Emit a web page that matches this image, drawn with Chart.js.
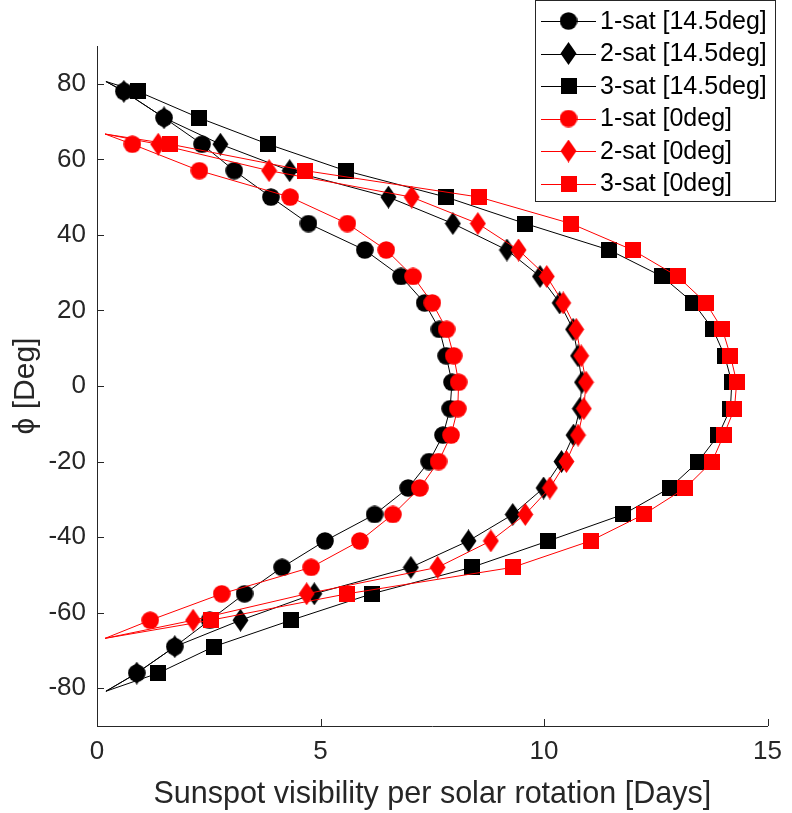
<!DOCTYPE html>
<html>
<head>
<meta charset="utf-8">
<script src="https://cdn.jsdelivr.net/npm/chart.js@4.4.1/dist/chart.umd.min.js"></script>
<style>
  html, body { margin: 0; padding: 0; background: #fff; }
  #wrap { width: 792px; height: 813px; }
</style>
</head>
<body>
<div id="wrap"><canvas id="sunspot-chart" width="792" height="813"></canvas></div>
<script>
// latitudes (deg) of the sampled points, tips first/last
const latBlack = [80.6, 78, 71, 64, 57, 50, 43, 36, 29, 22, 15, 8, 1, -6, -13, -20, -27, -34, -41, -48, -55, -62, -69, -76, -80.8];
const latRed = [66.7, 64, 57, 50, 43, 36, 29, 22, 15, 8, 1, -6, -13, -20, -27, -34, -41, -48, -55, -62, -66.8];

// visibility in days, 14.5deg inclination (black)
const sat1Incl = [0.2, 0.6, 1.5, 2.35, 3.07, 3.89, 4.73, 5.99, 6.8, 7.33, 7.66, 7.81, 7.94, 7.9, 7.74, 7.43, 6.96, 6.21, 5.1, 4.14, 3.3, 2.52, 1.74, 0.89, 0.2];
const sat2Incl = [0.2, 0.6, 1.5, 2.76, 4.31, 6.52, 7.96, 9.17, 9.91, 10.35, 10.65, 10.76, 10.85, 10.8, 10.66, 10.39, 9.99, 9.3, 8.31, 7.02, 4.86, 3.21, 1.74, 0.89, 0.2];
const sat3Incl = [0.2, 0.91, 2.28, 3.83, 5.56, 7.81, 9.58, 11.46, 12.64, 13.34, 13.78, 14.04, 14.2, 14.17, 13.9, 13.45, 12.81, 11.77, 10.1, 8.38, 6.15, 4.34, 2.61, 1.37, 0.2];

// visibility in days, 0deg inclination (red)
const sat1Zero = [0.18, 0.79, 2.29, 4.32, 5.6, 6.47, 7.07, 7.5, 7.82, 7.98, 8.09, 8.07, 7.92, 7.64, 7.22, 6.62, 5.88, 4.79, 2.79, 1.19, 0.18];
const sat2Zero = [0.18, 1.37, 3.85, 7.04, 8.52, 9.43, 10.06, 10.43, 10.72, 10.83, 10.94, 10.89, 10.76, 10.5, 10.13, 9.58, 8.81, 7.62, 4.69, 2.15, 0.18];
const sat3Zero = [0.18, 1.64, 4.66, 8.55, 10.6, 11.98, 12.99, 13.62, 13.99, 14.17, 14.31, 14.26, 14.02, 13.76, 13.16, 12.23, 11.04, 9.3, 5.6, 2.54, 0.18];

const labels = ['1-sat [14.5deg]', '2-sat [14.5deg]', '3-sat [14.5deg]', '1-sat [0deg]', '2-sat [0deg]', '3-sat [0deg]'];
const xTicks = [0, 5, 10, 15];
const yTicks = [-80, -60, -40, -20, 0, 20, 40, 60, 80];

const axisColor = '#262626';
const fontFamily = "'Liberation Sans', Arial, 'DejaVu Sans', sans-serif";

// MATLAB-like filled markers
function makeMarker(shape, color) {
    const c = document.createElement('canvas');
    if (shape === 'circle') { c.width = 18; c.height = 18; }
    else if (shape === 'square') { c.width = 16; c.height = 16; }
    else { c.width = 17; c.height = 23; }
    const g = c.getContext('2d');
    g.fillStyle = color;
    g.beginPath();
    if (shape === 'circle') {
        g.arc(9, 9, 8.8, 0, Math.PI * 2);
    } else if (shape === 'square') {
        g.rect(0, 0, 16, 16);
    } else {
        g.moveTo(8.5, 0); g.lineTo(16.5, 11.5); g.lineTo(8.5, 23); g.lineTo(0.5, 11.5); g.closePath();
    }
    g.fill();
    return c;
}

const toPoints = (xs, lats) => xs.map((v, i) => ({ x: v, y: lats[i] }));

function series(i, xs, lats, color, shape) {
    const last = xs.length - 1;
    return {
        label: labels[i],
        data: toPoints(xs, lats),
        showLine: true,
        borderColor: color,
        backgroundColor: color,
        borderWidth: 1,
        tension: 0,
        pointStyle: makeMarker(shape, color),
        pointRadius: ctx => (ctx.dataIndex === 0 || ctx.dataIndex === last) ? 0 : 8,
        order: 6 - i  // later series drawn on top
    };
}

const datasets = [
    series(0, sat1Incl, latBlack, '#000000', 'circle'),
    series(1, sat2Incl, latBlack, '#000000', 'diamond'),
    series(2, sat3Incl, latBlack, '#000000', 'square'),
    series(3, sat1Zero, latRed, '#ff0000', 'circle'),
    series(4, sat2Zero, latRed, '#ff0000', 'diamond'),
    series(5, sat3Zero, latRed, '#ff0000', 'square')
];

// inward tick marks + boxed legend in the upper right
const framePlugin = {
    id: 'frame',
    afterDraw(chart) {
        const { ctx, chartArea: a, scales: { x, y } } = chart;
        ctx.save();
        ctx.strokeStyle = axisColor;
        ctx.lineWidth = 1;
        ctx.beginPath();
        xTicks.forEach(v => {
            const p = Math.round(x.getPixelForValue(v)) + 0.5;
            ctx.moveTo(p, a.bottom); ctx.lineTo(p, a.bottom - 7);
        });
        yTicks.forEach(v => {
            const p = Math.round(y.getPixelForValue(v)) + 0.5;
            ctx.moveTo(a.left, p); ctx.lineTo(a.left + 7, p);
        });
        ctx.stroke();

        // legend
        const box = { left: 535.5, top: 0.5, right: 775.5, bottom: 201.5 };
        ctx.fillStyle = '#fff';
        ctx.fillRect(box.left, box.top, box.right - box.left, box.bottom - box.top);
        ctx.strokeRect(box.left, box.top, box.right - box.left, box.bottom - box.top);
        ctx.font = '25px ' + fontFamily;
        ctx.textBaseline = 'middle';
        ctx.textAlign = 'left';
        chart.data.datasets.forEach((ds, i) => {
            const cy = 21 + i * 32.5;
            ctx.strokeStyle = ds.borderColor;
            ctx.beginPath();
            ctx.moveTo(541, Math.round(cy) + 0.5);
            ctx.lineTo(596, Math.round(cy) + 0.5);
            ctx.stroke();
            const m = ds.pointStyle;
            ctx.drawImage(m, 568.5 - m.width / 2, cy - m.height / 2);
            ctx.fillStyle = '#000';
            ctx.fillText(ds.label, 600, cy + 1);
        });
        ctx.restore();
    }
};

Chart.defaults.font.family = fontFamily;
Chart.defaults.color = axisColor;

new Chart(document.getElementById('sunspot-chart'), {
    type: 'scatter',
    data: { datasets },
    options: {
        responsive: false,
        animation: false,
        layout: { padding: { top: 46, right: 17, left: 0, bottom: 0 } },
        plugins: { legend: { display: false }, tooltip: { enabled: false } },
        scales: {
            x: {
                type: 'linear',
                min: 0,
                max: 15,
                afterBuildTicks: s => { s.ticks = xTicks.map(v => ({ value: v })); },
                afterFit: s => { s.height = 87; },
                grid: { display: false, drawTicks: false },
                border: { display: true, color: axisColor, width: 1 },
                ticks: { font: { size: 26 }, color: axisColor, padding: 10, maxRotation: 0, autoSkip: false },
                title: {
                    display: true,
                    text: 'Sunspot visibility per solar rotation [Days]',
                    font: { size: 30.5 },
                    color: axisColor,
                    padding: { top: 0, bottom: 0 }
                }
            },
            y: {
                type: 'linear',
                min: -90,
                max: 90,
                afterBuildTicks: s => { s.ticks = yTicks.map(v => ({ value: v })); },
                afterFit: s => { s.width = 97; },
                grid: { display: false, drawTicks: false },
                border: { display: true, color: axisColor, width: 1 },
                ticks: { font: { size: 26 }, color: axisColor, padding: 11, autoSkip: false },
                title: {
                    display: true,
                    text: 'ϕ [Deg]',
                    font: { size: 30 },
                    color: axisColor,
                    padding: { top: 8, bottom: 0 }
                }
            }
        }
    },
    plugins: [framePlugin]
});
</script>
</body>
</html>
